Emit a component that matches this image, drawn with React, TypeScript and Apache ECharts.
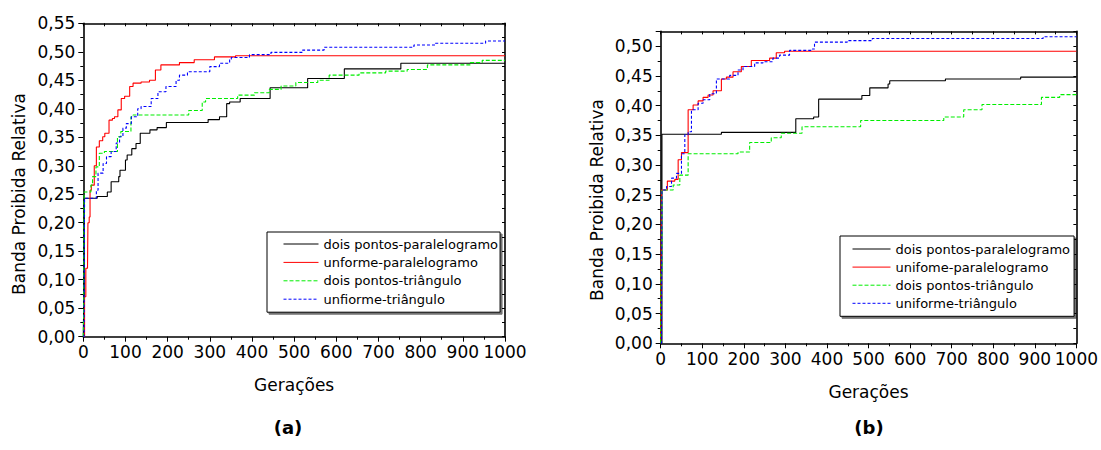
import React, { useEffect, useRef } from "react";
import * as echarts from "echarts";

// ---------- data (generation, relative forbidden band) ----------
const namesA = ["dois pontos-paralelogramo", "unforme-paralelogramo", "dois pontos-triângulo", "unfiorme-triângulo"];
const namesB = ["dois pontos-paralelogramo", "unifome-paralelogramo", "dois pontos-triângulo", "uniforme-triângulo"];

const blackA = [[0,0],[1,0.06],[2,0.243],[33,0.246],[57,0.254],[66,0.272],[84,0.281],[87,0.292],[100,0.31],[104,0.319],[115,0.33],[125,0.339],[135,0.357],[158,0.363],[175,0.367],[197,0.376],[296,0.381],[323,0.386],[340,0.409],[347,0.412],[372,0.418],[443,0.437],[532,0.453],[619,0.47],[753,0.48],[1000,0.48]];
const redA = [[0,0],[3,0.07],[6,0.12],[10,0.123],[11,0.2],[14,0.21],[16,0.257],[19,0.266],[26,0.3],[31,0.333],[38,0.344],[46,0.351],[51,0.357],[61,0.38],[69,0.383],[74,0.386],[82,0.398],[90,0.418],[98,0.422],[110,0.439],[118,0.445],[137,0.447],[157,0.45],[171,0.468],[184,0.477],[228,0.481],[263,0.486],[311,0.491],[361,0.493],[1000,0.493]];
const greenA = [[0,0],[1,0.064],[2,0.254],[18,0.266],[22,0.281],[30,0.298],[38,0.322],[50,0.325],[81,0.351],[89,0.36],[113,0.386],[118,0.389],[250,0.397],[282,0.412],[290,0.418],[366,0.424],[406,0.428],[441,0.434],[469,0.44],[504,0.446],[556,0.45],[583,0.459],[654,0.463],[717,0.466],[768,0.469],[816,0.477],[918,0.481],[946,0.485],[1000,0.485]];
const blueA = [[0,0],[2,0.07],[3,0.243],[31,0.257],[35,0.287],[47,0.304],[55,0.316],[66,0.325],[78,0.34],[86,0.351],[94,0.366],[102,0.374],[114,0.386],[129,0.4],[137,0.404],[161,0.418],[177,0.43],[196,0.439],[220,0.45],[228,0.459],[247,0.465],[300,0.474],[323,0.48],[347,0.487],[351,0.49],[394,0.495],[445,0.499],[520,0.503],[571,0.508],[784,0.512],[835,0.515],[954,0.519],[1000,0.519]];

const blackB = [[0,0],[3,0.352],[146,0.355],[325,0.378],[368,0.381],[380,0.411],[484,0.417],[503,0.43],[547,0.4365],[551,0.442],[685,0.445],[866,0.448],[1000,0.448]];
const redB = [[0,0],[1,0.1],[2,0.258],[16,0.273],[34,0.276],[42,0.309],[50,0.321],[66,0.393],[78,0.401],[90,0.408],[102,0.414],[114,0.418],[126,0.425],[146,0.445],[158,0.448],[174,0.457],[194,0.466],[218,0.476],[262,0.48],[278,0.489],[298,0.4916],[1000,0.4916]];
const greenB = [[0,0],[1,0.12],[3,0.258],[30,0.2665],[46,0.283],[66,0.319],[186,0.322],[214,0.338],[266,0.346],[290,0.3535],[340,0.3646],[481,0.375],[681,0.381],[729,0.393],[773,0.402],[916,0.414],[960,0.4185],[1000,0.4185]];
const blueB = [[0,0],[2,0.06],[3,0.258],[14,0.264],[26,0.278],[38,0.286],[50,0.319],[58,0.351],[66,0.356],[74,0.393],[90,0.404],[102,0.41],[118,0.42],[134,0.445],[166,0.451],[186,0.46],[198,0.466],[226,0.472],[246,0.474],[270,0.48],[286,0.485],[310,0.493],[365,0.4955],[370,0.507],[449,0.5095],[509,0.513],[920,0.516],[1000,0.516]];

const xTitle = "Gerações";
const yTitle = "Banda Proibida Relativa";
const panelLabels = ["(a)", "(b)"];
const yMaxA = 0.55;
const yMaxB = 0.525;
const xMax = 1000;

const FONT = "DejaVu Sans";

function bottomX(gridIndex: number) {
  return {
    type: "value", gridIndex, min: 0, max: xMax, interval: 100,
    name: xTitle, nameLocation: "middle", nameGap: 40,
    nameTextStyle: { fontFamily: FONT, fontSize: 17, color: "#000" },
    axisLine: { show: true, onZero: false, lineStyle: { color: "#000", width: 1.6 } },
    axisTick: { show: true, inside: false, length: 5, lineStyle: { color: "#000", width: 1 } },
    minorTick: { show: true, splitNumber: 2, length: 3, lineStyle: { color: "#000", width: 1 } },
    axisLabel: { color: "#000", fontFamily: FONT, fontSize: 17, margin: 7, formatter: (v: number) => String(v) },
    splitLine: { show: false }, minorSplitLine: { show: false },
  };
}
function topX(gridIndex: number) {
  return {
    type: "value", gridIndex, position: "top", min: 0, max: xMax, interval: 50,
    axisLine: { show: true, onZero: false, lineStyle: { color: "#000", width: 1.6 } },
    axisTick: { show: true, inside: true, length: 3, lineStyle: { color: "#000", width: 1 } },
    axisLabel: { show: false }, splitLine: { show: false },
  };
}
function leftY(gridIndex: number, max: number) {
  return {
    type: "value", gridIndex, min: 0, max, interval: 0.05,
    axisLine: { show: true, onZero: false, lineStyle: { color: "#000", width: 1.6 } },
    axisTick: { show: true, inside: false, length: 5, lineStyle: { color: "#000", width: 1 } },
    minorTick: { show: true, splitNumber: 2, length: 3, lineStyle: { color: "#000", width: 1 } },
    axisLabel: {
      color: "#000", fontFamily: FONT, fontSize: 17, margin: 8,
      formatter: (v: number) => (v > 0.5001 && max !== 0.55 ? "" : v.toFixed(2).replace(".", ",")),
    },
    splitLine: { show: false }, minorSplitLine: { show: false },
  };
}
function rightY(gridIndex: number, max: number) {
  return {
    type: "value", gridIndex, position: "right", min: 0, max, interval: 0.025,
    axisLine: { show: true, onZero: false, lineStyle: { color: "#000", width: 1.6 } },
    axisTick: { show: true, inside: true, length: 3, lineStyle: { color: "#000", width: 1 } },
    axisLabel: { show: false }, splitLine: { show: false },
  };
}

function mkSeries(name: string, data: number[][], idx: number, color: string, type: any, width = 1.1) {
  return {
    name, type: "line", data, step: "end", xAxisIndex: idx, yAxisIndex: idx,
    symbol: "none", showSymbol: false, silent: true,
    lineStyle: { color, width, type },
    itemStyle: { color },
  };
}

function legendAt(names: string[], left: number, top: number, padding: number[], itemWidth: number, itemGap: number) {
  return {
    orient: "vertical", left, top, padding, itemWidth, itemHeight: 14, itemGap,
    data: names, selectedMode: false,
    itemStyle: { opacity: 0 },
    lineStyle: { width: 1 },
    backgroundColor: "#fff", borderColor: "#000", borderWidth: 1,
    shadowColor: "rgba(0,0,0,0.55)", shadowOffsetX: 2, shadowOffsetY: 2, shadowBlur: 0,
    textStyle: { fontFamily: FONT, fontSize: 13, color: "#000", lineHeight: 14 },
  };
}

export default function App() {
  const ref = useRef<HTMLDivElement>(null);
  useEffect(() => {
    if (!ref.current) return;
    const chart = echarts.init(ref.current, undefined, { renderer: "svg" });
    chart.setOption({
      animation: false,
      backgroundColor: "#fff",
      grid: [
        { left: 83.3, right: 596, top: 23.3, bottom: 113.3, containLabel: false },
        { left: 660.7, right: 22.7, top: 31.4, bottom: 106.7, containLabel: false },
      ],
      xAxis: [bottomX(0), topX(0), bottomX(1), topX(1)],
      yAxis: [leftY(0, yMaxA), rightY(0, yMaxA), leftY(1, yMaxB), rightY(1, yMaxB)],
      series: [
        mkSeries(namesA[0], blackA, 0, "#000000", "solid"),
        mkSeries(namesA[1], redA, 0, "#ff0000", "solid"),
        mkSeries(namesA[2], greenA, 0, "#00ee00", [4, 2]),
        mkSeries(namesA[3], blueA, 0, "#0000ff", [3, 2]),
        mkSeries(namesB[0], blackB, 2, "#000000", "solid"),
        mkSeries(namesB[1], redB, 2, "#ff0000", "solid"),
        mkSeries(namesB[2], greenB, 2, "#00ee00", [4, 2]),
        mkSeries(namesB[3], blueB, 2, "#0000ff", [3, 2]),
      ],
      legend: [
        legendAt(namesA, 267, 232, [5, 2, 6, 16], 35, 4.4),
        legendAt(namesB, 840, 236, [6, 4, 6, 12], 38, 4.1),
      ],
      graphic: [
        { type: "text", x: 19, y: 194, rotation: Math.PI / 2,
          style: { text: yTitle, fontFamily: FONT, fontSize: 17, fill: "#000", align: "center", verticalAlign: "middle" } },
        { type: "text", x: 597, y: 200, rotation: Math.PI / 2,
          style: { text: yTitle, fontFamily: FONT, fontSize: 17, fill: "#000", align: "center", verticalAlign: "middle" } },
        { type: "text", x: 288, y: 427,
          style: { text: panelLabels[0], fontFamily: FONT, fontSize: 18, fontWeight: "bold", fill: "#000", align: "center", verticalAlign: "middle" } },
        { type: "text", x: 869, y: 427,
          style: { text: panelLabels[1], fontFamily: FONT, fontSize: 18, fontWeight: "bold", fill: "#000", align: "center", verticalAlign: "middle" } },
      ],
    });
    return () => chart.dispose();
  }, []);
  return (
    <div
      ref={ref}
      style={{ position: "fixed", left: 0, top: 0, width: 1101, height: 450, background: "#fff" }}
    />
  );
}
